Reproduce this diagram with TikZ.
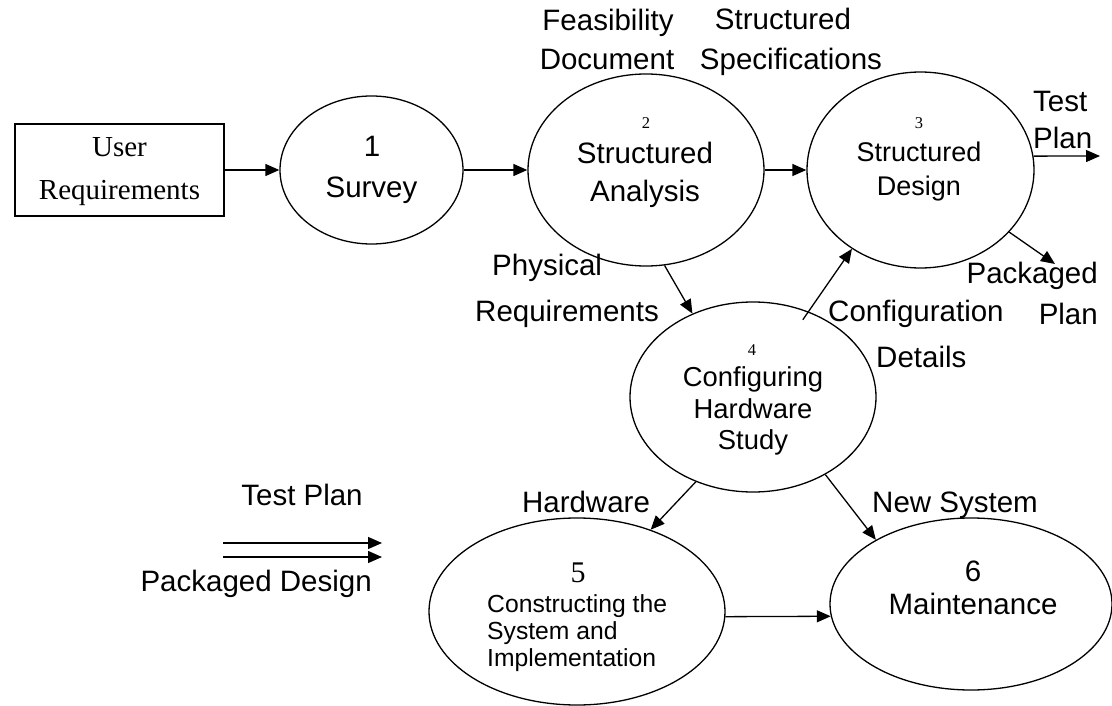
\documentclass[tikz,border=0pt]{standalone}
\usepackage{fontspec}
\setmainfont{Liberation Serif}
\newfontfamily\sansf{Liberation Sans}
\usetikzlibrary{shapes.geometric,arrows.meta,calc}
\begin{document}
\begin{tikzpicture}[x=1pt,y=-1pt,
  proc/.style={ellipse,draw,line width=1.3pt,inner sep=0pt},
  flow/.style={-{Triangle[length=14pt,width=12pt]},line width=1.3pt},
  lbl/.style={font=\sansf\fontsize{29.5}{36}\selectfont,inner sep=0pt,anchor=base},
  ptxt/.style={font=\sansf\fontsize{29.5}{36}\selectfont,inner sep=0pt,anchor=base},
  pnum/.style={font=\fontsize{16.5}{18}\selectfont,inner sep=0pt,anchor=base}
]
\useasboundingbox (0,0) rectangle (1112,706);

% external entity
\node[draw,line width=1.3pt,minimum width=209pt,minimum height=92pt,inner sep=0pt] (ur) at (119.5,170) {};
\node[font=\fontsize{29}{36}\selectfont,inner sep=0pt,anchor=base] (urA) at (119.5,157) {User};
\node[font=\fontsize{29}{36}\selectfont,inner sep=0pt,anchor=base] (urB) at (119.5,200) {Requirements};

% processes
\node[proc,minimum width=183pt,minimum height=148pt] (p1) at (371.5,170) {};
\node[proc,minimum width=236pt,minimum height=192pt] (p2) at (646,170) {};
\node[proc,minimum width=227pt,minimum height=196pt] (p3) at (920.5,170) {};
\node[proc,minimum width=246pt,minimum height=190pt] (p4) at (753,397) {};
\node[proc,minimum width=296pt,minimum height=187pt] (p5) at (577,611.5) {};
\node[proc,minimum width=282pt,minimum height=172pt] (p6) at (971,604) {};

% process texts
\node[ptxt] (t1a) at (372,157) {1};
\node[ptxt] (t1b) at (371.5,198) {Survey};
\node[pnum] (t2a) at (646,129) {2};
\node[ptxt] (t2b) at (645,164) {Structured};
\node[ptxt] (t2c) at (645,201) {Analysis};
\node[pnum] (t3a) at (919,129) {3};
\node[ptxt,font=\sansf\fontsize{27}{32}\selectfont] (t3b) at (919,162) {Structured};
\node[ptxt,font=\sansf\fontsize{27}{32}\selectfont] (t3c) at (919,196) {Design};
\node[pnum] (t4a) at (752,355) {4};
\node[ptxt,font=\sansf\fontsize{27.4}{32}\selectfont] (t4b) at (753,386) {Configuring};
\node[ptxt,font=\sansf\fontsize{27.4}{32}\selectfont] (t4c) at (753,418) {Hardware};
\node[ptxt,font=\sansf\fontsize{27.4}{32}\selectfont] (t4d) at (753,449) {Study};
\node[font=\fontsize{30}{32}\selectfont,inner sep=0pt,anchor=base] (t5a) at (578,582) {5};
\node[ptxt,font=\sansf\fontsize{24.7}{27}\selectfont,anchor=base west] (t5b) at (487,612) {Constructing the};
\node[ptxt,font=\sansf\fontsize{24.7}{27}\selectfont,anchor=base west] (t5c) at (487,639) {System and};
\node[ptxt,font=\sansf\fontsize{24.7}{27}\selectfont,anchor=base west] (t5d) at (487,666) {Implementation};
\node[ptxt] (t6a) at (973,581) {6};
\node[ptxt] (t6b) at (973,614) {Maintenance};

% free ends
\coordinate (tpEnd) at (1100,156);
\coordinate (pkEnd) at (1055,264);
\coordinate (dA1) at (223,543);
\coordinate (dA2) at (382,543);
\coordinate (dB1) at (223,557);
\coordinate (dB2) at (382,557);

% flows
\draw[flow] (ur.east) -- (p1.west);
\draw[flow] (p1.east) -- (p2.west);
\draw[flow] (p2.east) -- (p3.west);
\draw[flow] (p3.7.1) -- (tpEnd);
\draw[flow] (p3.-35.6) -- (pkEnd);
\draw[flow] (p2.-79.3) -- (p4.126);
\draw[flow] ($(p4.57.7)!-10pt!(p3.229)$) -- (p3.229);
\draw[flow] (p4.236.5) -- (p5.48.7);
\draw[flow] (p4.-47.4) -- (p6.146.9);
\draw[flow] (p5.-2.1) -- (p6.185.3);
\draw[flow] (dA1) -- (dA2);
\draw[flow] (dB1) -- (dB2);

% flow labels
\node[lbl] (lFeA) at (608,31) {Feasibility};
\node[lbl] (lFeB) at (607,70) {Document};
\node[lbl] (lSpA) at (783,30) {Structured};
\node[lbl] (lSpB) at (791,70) {Specifications};
\node[lbl,anchor=base west] (lTeA) at (1033,112) {Test};
\node[lbl,anchor=base west] (lTeB) at (1033,149) {Plan};
\node[lbl,anchor=base west] (lPhA) at (492,275) {Physical};
\node[lbl,anchor=base west] (lPhB) at (475,321) {Requirements};
\node[lbl,anchor=base east] (lPkA) at (1098,283) {Packaged};
\node[lbl,anchor=base east] (lPkB) at (1098,324) {Plan};
\node[lbl,anchor=base west] (lCoA) at (828,321) {Configuration};
\node[lbl,anchor=base west] (lCoB) at (876,367) {Details};
\node[lbl] (lHw) at (586,512) {Hardware};
\node[lbl,anchor=base west] (lNew) at (872,512) {New System};
\node[lbl] (lTP) at (302,505) {Test Plan};
\node[lbl,anchor=base east] (lPD) at (372,591) {Packaged Design};
\end{tikzpicture}
\end{document}
